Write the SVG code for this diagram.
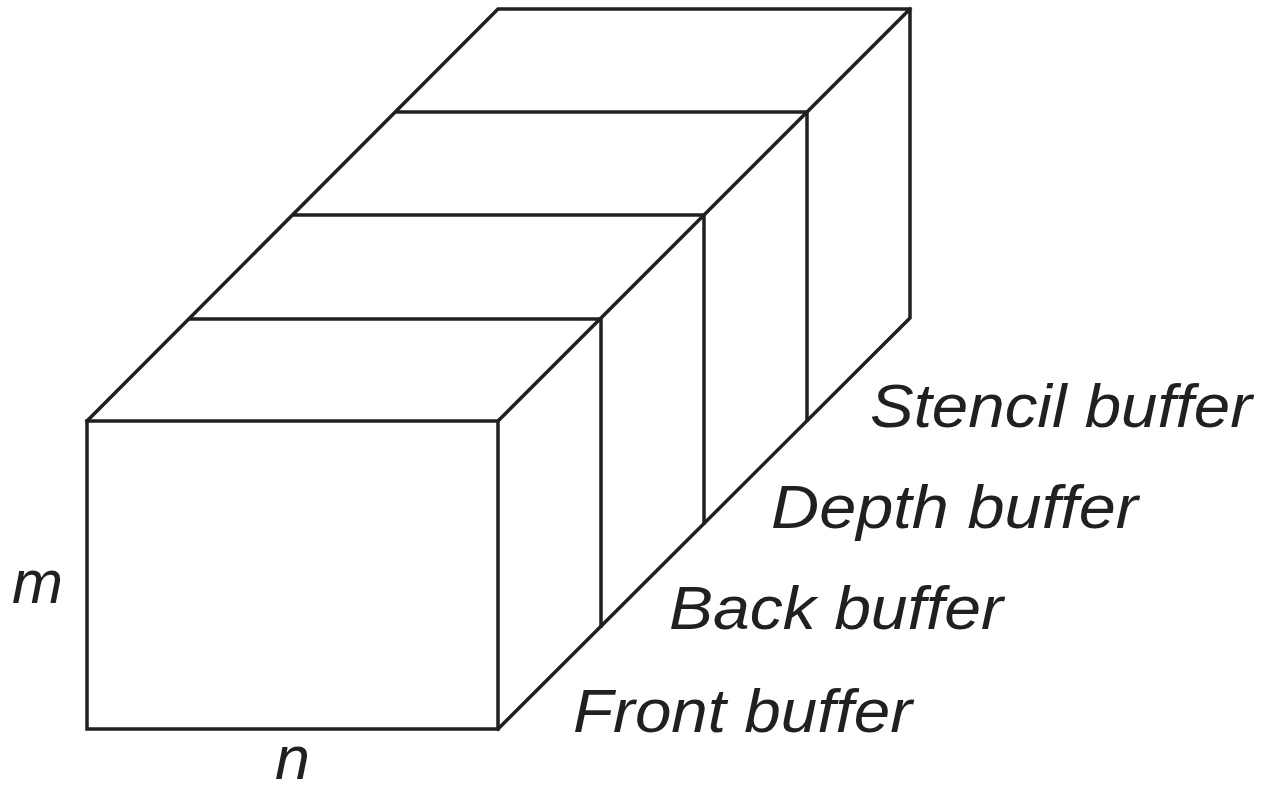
<svg xmlns="http://www.w3.org/2000/svg" width="1262" height="792" viewBox="0 0 1262 792">
<style>
.ln{fill:none;stroke:#231f20;stroke-width:3.5;stroke-linejoin:miter;stroke-linecap:square}
.lb{font-family:"Liberation Sans",Arial,sans-serif;font-style:italic;font-size:62px;fill:#231f20}
</style>
<rect width="1262" height="792" fill="#fff"/>
<g id="buffers">
<g id="front-face"><rect class="ln" x="87" y="421" width="411" height="308"/></g>
<g id="outline"><path class="ln" d="M87,421 L498,9 L910,9 L910,318 L498,729 M498,421 L910,9"/></g>
<g id="dividers">
<path class="ln" d="M190,319 L601,319 L601,626"/>
<path class="ln" d="M295,215 L704,215 L704,523"/>
<path class="ln" d="M398,112 L807,112 L807,420"/>
</g>
</g>
<g id="labels">
<text class="lb" x="870" y="427" textLength="382" lengthAdjust="spacingAndGlyphs">Stencil buffer</text>
<text class="lb" x="771" y="528" textLength="367" lengthAdjust="spacingAndGlyphs">Depth buffer</text>
<text class="lb" x="669" y="629" textLength="334" lengthAdjust="spacingAndGlyphs">Back buffer</text>
<text class="lb" x="573" y="732" textLength="339" lengthAdjust="spacingAndGlyphs">Front buffer</text>
<text class="lb" x="12" y="603" textLength="51" lengthAdjust="spacingAndGlyphs">m</text>
<text class="lb" x="275" y="779" font-size="60" textLength="35" lengthAdjust="spacingAndGlyphs">n</text>
</g>
</svg>
